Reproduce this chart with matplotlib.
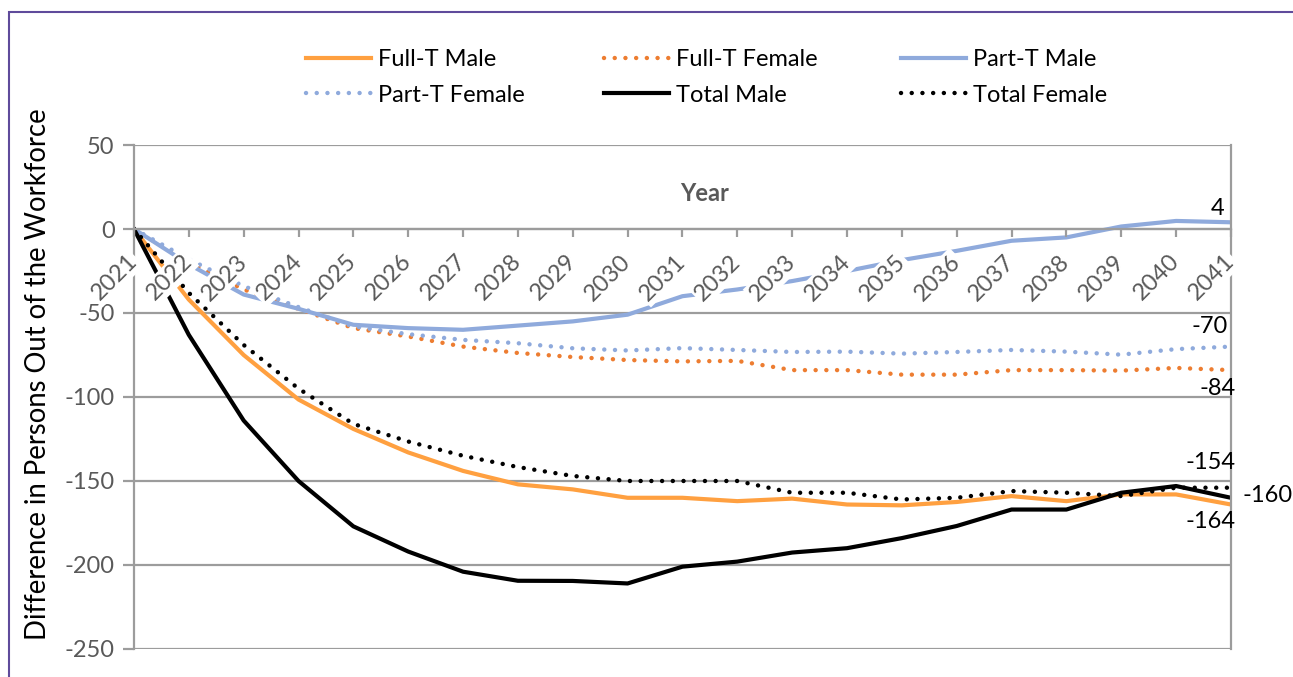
import numpy as np
import matplotlib.pyplot as plt
from matplotlib.patches import Rectangle

plt.rcParams['font.family'] = ['Lato', 'DejaVu Sans']
plt.rcParams['axes.unicode_minus'] = False

# projection years and the change in persons out of the workforce
years = list(range(2021, 2042))

full_t_male = [0, -42, -75, -101.5, -119, -133, -144, -152, -155, -160, -160,
               -162, -160.5, -164, -164.5, -162.5, -159, -162, -158, -158, -164]
full_t_female = [0, -20, -36, -47.5, -59, -64, -70, -73.8, -76.2, -78, -78.8,
                 -78.5, -84, -84, -86.7, -86.7, -84, -84, -84.3, -82.7, -84]
part_t_male = [0, -21, -39, -47.5, -57, -59, -60, -57.5, -55, -51, -40,
               -36, -31, -25, -18.5, -13, -7, -5, 1.5, 4.8, 4]
part_t_female = [0, -18, -34, -46.5, -58, -62.6, -66, -68, -71, -72.3, -70.9,
                 -72, -73.2, -73, -74.2, -73.2, -72, -73, -74.8, -71.5, -70]
total_male = [0, -63, -114, -150, -177, -192, -204, -209.4, -209.5, -211, -201,
              -198, -192.6, -190, -184, -176.8, -167, -167, -157, -153, -160]
total_female = [0, -38, -69, -95, -116, -126.5, -135, -141.7, -147, -150, -150,
                -150, -157, -157, -161, -160, -156, -157, -159, -154, -154]

y_ticks = [50, 0, -50, -100, -150, -200, -250]

orange_light = '#FFA040'
orange_dark = '#ED7D31'
blue = '#8FAADC'
dots = (0, (0.01, 2.4))

fig = plt.figure(figsize=(12.93, 6.77), dpi=100)
ax = fig.add_axes([0.1036, 0.0414, 0.8484, 0.7444])

l1, = ax.plot(years, full_t_male, color=orange_light, lw=3, label='Full-T Male')
l2, = ax.plot(years, full_t_female, color=orange_dark, lw=3.2, ls=dots,
              dash_capstyle='round', label='Full-T Female')
l3, = ax.plot(years, part_t_male, color=blue, lw=3, label='Part-T Male')
l4, = ax.plot(years, part_t_female, color=blue, lw=3.2, ls=dots,
              dash_capstyle='round', label='Part-T Female')
l5, = ax.plot(years, total_male, color='black', lw=3, label='Total Male')
l6, = ax.plot(years, total_female, color='black', lw=3.2, ls=dots,
              dash_capstyle='round', label='Total Female')

ax.set_xlim(2021, 2041)
ax.set_ylim(-250, 50)
ax.set_yticks(y_ticks)
ax.set_xticks(years)

grey = '#9C9C9C'
ax.grid(axis='y', color=grey, lw=1.6)
for side in ['left', 'right', 'bottom']:
    ax.spines[side].set_color(grey)
    ax.spines[side].set_linewidth(1.6)
ax.spines['top'].set_visible(False)
ax.spines['bottom'].set_position(('data', 0))

ax.tick_params(axis='y', direction='out', length=8, width=1.6, color=grey,
               labelcolor='#595959', labelsize=17, pad=6)
ax.tick_params(axis='x', direction='out', length=6, width=1.6, color=grey,
               labelcolor='#595959', labelsize=17, pad=15)
for lab in ax.get_xticklabels():
    lab.set_rotation(45)
    lab.set_ha('right')
    lab.set_va('center')
    lab.set_rotation_mode('anchor')
    lab.set_bbox(dict(facecolor='white', edgecolor='none', pad=1.5))
ax.xaxis.set_zorder(3)

ax.text(2031.4, 21, 'Year', fontsize=17, fontweight='bold', color='#595959',
        ha='center', va='center')

# end-of-series value labels
end_labels = [
    (part_t_male[-1], '4', (-13, 14)),
    (part_t_female[-1], '-70', (-21, 20)),
    (full_t_female[-1], '-84', (-13, -18)),
    (total_female[-1], '-154', (-20, 25)),
    (total_male[-1], '-160', (37, 2)),
    (full_t_male[-1], '-164', (-20, -17)),
]
for val, txt, off in end_labels:
    ax.annotate(txt, (years[-1], val), xytext=off, textcoords='offset pixels',
                ha='center', va='center', fontsize=17, color='black',
                annotation_clip=False)

fig.text(38 / 1293, 0.448, 'Difference in Persons Out of the Workforce',
         rotation=90, ha='center', va='center', fontsize=19.8, color='black')

# legend laid out as three columns of two rows
cols = [(l1, l4), (l2, l5), (l3, l6)]
col_x = [299, 597, 894]
for (a, b), cx in zip(cols, col_x):
    fig.legend([a, b], [a.get_label(), b.get_label()], loc='upper left',
               bbox_to_anchor=(cx / 1293, 1 - 42 / 677), frameon=False,
               fontsize=17, handlelength=2.75, handletextpad=0.3,
               labelspacing=0.62, borderaxespad=0, borderpad=0.3)

fig.add_artist(Rectangle((9 / 1293, -0.1), 1.2, 1.1 - 12 / 677,
                         transform=fig.transFigure, fill=False,
                         ec='#5F4B9B', lw=1.5))

fig.savefig('out.png', dpi=100)
